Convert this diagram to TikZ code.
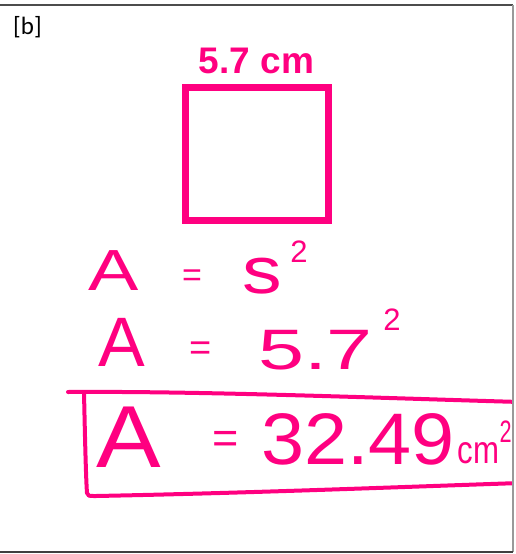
\documentclass[tikz,border=0pt]{standalone}
\usepackage{fontspec}
\setmainfont{Liberation Sans}
\newfontfamily\tagfont{Carlito}
\usepackage{xcolor}
\usepackage{tikz}
\usetikzlibrary{positioning}
\definecolor{inkpink}{RGB}{255,0,128}
\newcommand\inksize[1]{\fontsize{#1}{#1}\selectfont}

\begin{document}
\begin{tikzpicture}[x=1pt, y=1pt,
  hand/.style={text=inkpink, inner sep=0pt, anchor=base},
  ink/.style={draw=inkpink, line width=4pt, line cap=round, line join=round},
  frame/.style={line width=1.5pt}
]
\useasboundingbox (0,0) rectangle (515,-554);
\begin{scope}
\clip (0,-5) rectangle (513,-552);
\node[anchor=base west, inner sep=0pt, font=\tagfont\inksize{25}] (tag) at (13,-34) {[b]};
\node[draw=inkpink, line width=7pt, minimum width=142.5pt, minimum height=133.5pt, inner sep=0pt] (sq) at (256.75,-153.75) {};
\node[hand, font=\bfseries\inksize{37}] (side) at (256.5,-73) {5.7 cm};
\node[hand, font=\inksize{58}, xscale=1.3] (a1) at (114,-290) {A};
\node[hand, font=\inksize{34}] (e1) at (192,-286.6) {=};
\node[hand, font=\inksize{66}, xscale=1.2] (s1) at (262,-293) {s};
\node[hand, font=\inksize{31}] (p1) at (299,-262) {2};
\node[hand, font=\inksize{70}] (a2) at (122,-366) {A};
\node[hand, font=\inksize{38}] (e2) at (201,-360) {=};
\node[hand, font=\inksize{57}, xscale=1.45] (v2) at (315.5,-369) {5.7};
\node[hand, font=\inksize{31}] (p2) at (392,-330) {2};
\node[hand, font=\inksize{88}, xscale=1.1] (a3) at (129,-467) {A};
\node[hand, font=\inksize{45}] (e3) at (226,-453) {=};
\node[hand, font=\inksize{73}, xscale=1.06] (v3) at (358,-464) {32.49};
\node[hand, font=\inksize{39}, xscale=0.8] (u3) at (478.5,-463) {cm};
\node[hand, anchor=base west, font=\inksize{31}, xscale=0.7] (p3) at (499.5,-442) {2};
\draw[ink] (68,-392) .. controls (200,-391) and (380,-398) .. (520,-402);
\draw[ink] (84,-392) .. controls (85,-440) and (86,-480) .. (87,-493)
  .. controls (88,-496) .. (96,-496) .. controls (250,-493) and (400,-487) .. (520,-483);
\end{scope}
\draw[frame, draw=black!70] (0,-5) -- (513,-5);
\draw[frame, draw=black!40] (513,-5) -- (513,-552);
\draw[frame, draw=black!75] (0,-552) -- (513,-552);
\end{tikzpicture}
\end{document}
